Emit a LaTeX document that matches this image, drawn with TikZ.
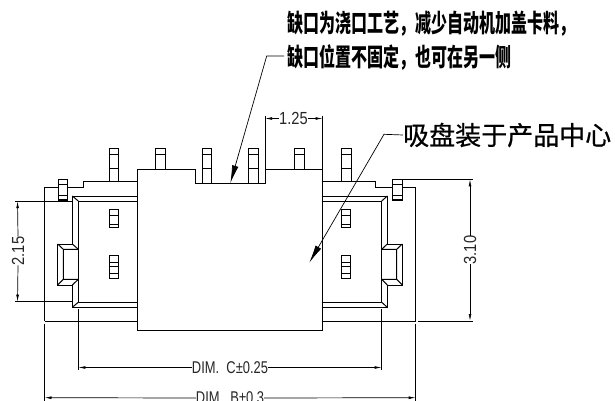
\documentclass[tikz,border=0pt]{standalone}
\usepackage{fontspec}
\setmainfont{Liberation Sans}
\newfontfamily\cjk{Noto Sans CJK SC}
\newfontfamily\cjkheavy[FakeBold=0.7]{Noto Sans CJK SC}
\usetikzlibrary{calc}
\usetikzlibrary{arrows.meta}
\tikzset{
    part/.style = {line width=1pt, line join=miter},
    thinline/.style = {line width=0.7pt},
    dimhalf/.style = {thinline, -{Latex[length=7pt,width=2.8pt]}},
    leader/.style = {thinline, -{Latex[length=18pt,width=6.5pt]}},
    dimtext/.style = {inner sep=0pt, text=black!85, font=\fontsize{17.5}{18}\selectfont, xscale=0.84},
    dimlong/.style = {inner sep=0pt, text=black!85, font=\fontsize{17}{18}\selectfont, xscale=0.76},
    note/.style = {inner sep=0pt, anchor=west, font=\cjk\bfseries\fontsize{25}{27}\selectfont, xscale=0.64},
    bignote/.style = {inner sep=0pt, anchor=west, font=\cjkheavy\fontsize{26}{28}\selectfont}}
% a pin with its cross lines
\newcommand{\pinbox}[4]{\draw[part] (#1,#2) rectangle ++(9.6,#3-#2);
    \foreach \ycross in {#4} {\draw[part] (#1,\ycross) -- ++(9.6,0);}}
\begin{document}
\begin{tikzpicture}[x=1pt,y=-1pt]
    \useasboundingbox (0,0) rectangle (615,401);
    % body
    \draw[part] (137.5,169.5) -- (195.7,169.5) -- (195.7,183.5) -- (265,183.5) -- (265,169.5)
        -- (322.7,169.5) -- (322.7,330) -- (137.5,330) -- cycle;
    % left shoulder and right shoulder
    \draw[part] (44.5,321) -- (44.5,187.3) -- (58.3,187.3) (67.7,187.3) -- (83.3,187.3) -- (83.3,181.7) -- (137.5,181.7);
    \draw[part] (44.5,321) -- (137.5,321) (322.7,321) -- (415.7,321);
    \draw[part] (415.7,321) -- (415.7,187.3) -- (402,187.3) (392.3,187.3) -- (375.7,187.3) -- (375.7,181.7) -- (322.7,181.7);
    % top pins
    \pinbox{109.3}{148.3}{181.7}{154,168.3}
    \pinbox{155.7}{148.3}{169.5}{154}
    \pinbox{202}{148.3}{183.5}{154,168.3}
    \pinbox{248.4}{148.3}{183.5}{154,168.3}
    \pinbox{294.8}{148.3}{169.5}{154}
    \pinbox{341.5}{148.3}{181.7}{154,168.3}
    % small pins
    \pinbox{58.2}{179.3}{200.7}{184.3,195.7,199}
    \pinbox{392.4}{179.3}{200.7}{184.3,195.7,199}
    % inner pins
    \pinbox{109.3}{209}{227.3}{215.7,224.3}
    \pinbox{109.3}{255.7}{278.3}{262,266.7,273.3}
    \pinbox{341.2}{209}{227.3}{215.7,224.3}
    \pinbox{341.2}{255.7}{278.3}{262,266.7,273.3}
    % left frame
    \draw[part] (137.5,196) -- (72.3,196) -- (72.3,244) -- (57.7,244) -- (57.7,285) -- (72.3,285) -- (72.3,307.3) -- (137.5,307.3);
    \draw[part] (137.5,201) -- (78.3,201) -- (78.3,302.3) -- (137.5,302.3);
    \draw[part] (72.3,196) -- (78.3,201) (72.3,307.3) -- (78.3,302.3) (72.3,244) -- (78.3,249.3) (72.3,285) -- (78.3,279.3);
    \draw[part] (57.7,244) -- (63.3,249.3) -- (63.3,279.3) -- (57.7,285) (63.3,249.3) -- (78.3,249.3) (63.3,279.3) -- (78.3,279.3);
    % right frame
    \draw[part] (322.7,196) -- (387.3,196) -- (387.3,244) -- (402.3,244) -- (402.3,285) -- (387.3,285) -- (387.3,307.3) -- (322.7,307.3);
    \draw[part] (322.7,201) -- (381.7,201) -- (381.7,302.3) -- (322.7,302.3);
    \draw[part] (387.3,196) -- (381.7,201) (387.3,307.3) -- (381.7,302.3) (387.3,244) -- (381.7,249.3) (387.3,285) -- (381.7,279.3);
    \draw[part] (402.3,244) -- (396.7,249.3) -- (396.7,279.3) -- (402.3,285) (396.7,249.3) -- (381.7,249.3) (396.7,279.3) -- (381.7,279.3);
    % extension lines
    \draw[thinline] (15.3,201.2) -- (72.3,201.2) (15.3,301.7) -- (72.3,301.7);
    \draw[thinline] (402.3,179.3) -- (473,179.3) (418,321) -- (473,321);
    \draw[thinline] (265,116.5) -- (265,169.5) (322.7,116.5) -- (322.7,169.5);
    \draw[thinline] (78.3,309) -- (78.3,369.5) (381.7,309) -- (381.7,369.5);
    \draw[thinline] (44.5,323.5) -- (44.5,401) (415.7,323.5) -- (415.7,401);
    % dimensions
    \node[rotate=90,dimtext] (D215) at (18,251) {2.15};
    \coordinate (D215a) at (17.5,201.2);
    \coordinate (D215b) at (17.5,301.7);
    \draw[dimhalf] (D215.east) -- (D215a);
    \draw[dimhalf] (D215.west) -- (D215b);
    \node[rotate=90,dimtext] (D310) at (470,250) {3.10};
    \coordinate (D310a) at (470,179.3);
    \coordinate (D310b) at (470,321);
    \draw[dimhalf] (D310.east) -- (D310a);
    \draw[dimhalf] (D310.west) -- (D310b);
    \node[dimtext] (D125) at (293.5,118.5) {1.25};
    \coordinate (D125a) at (265,118.5);
    \coordinate (D125b) at (322.7,118.5);
    \draw[dimhalf] (D125.west) -- (D125a);
    \draw[dimhalf] (D125.east) -- (D125b);
    \node[dimlong] (DimC) at (230,367.5) {DIM.\ \ C±0.25};
    \coordinate (DimCa) at (78.3,367.5);
    \coordinate (DimCb) at (381.7,367.5);
    \draw[dimhalf] (DimC.west) -- (DimCa);
    \draw[dimhalf] (DimC.east) -- (DimCb);
    \node[dimlong] (DimB) at (230,398) {DIM.\ \ B±0.3};
    \coordinate (DimBa) at (44.5,397.7);
    \coordinate (DimBb) at (415.7,397.7);
    \draw[dimhalf] (DimB.west) -- (DimBa);
    \draw[dimhalf] (DimB.east) -- (DimBb);
    % notes
    \node[note] (NoteA) at (287,24) {缺口为浇口工艺，减少自动机加盖卡料，};
    \node[note] (NoteB) at (287,57.5) {缺口位置不固定，也可在另一侧};
    \coordinate (NoteBbend) at (266.7,56);
    \coordinate (NotchTip) at (230.3,183.3);
    \draw[leader] (NoteB.west) ++(-3,-1.5) -- (NoteBbend) -- (NotchTip);
    \node[bignote] (NoteC) at (403,135) {吸盘装于产品中心};
    \coordinate (NoteCbend) at (384,134.3);
    \coordinate (CenterTip) at (309.3,262.7);
    \draw[leader] (NoteC.west) -- (NoteCbend) -- (CenterTip);
\end{tikzpicture}
\end{document}
